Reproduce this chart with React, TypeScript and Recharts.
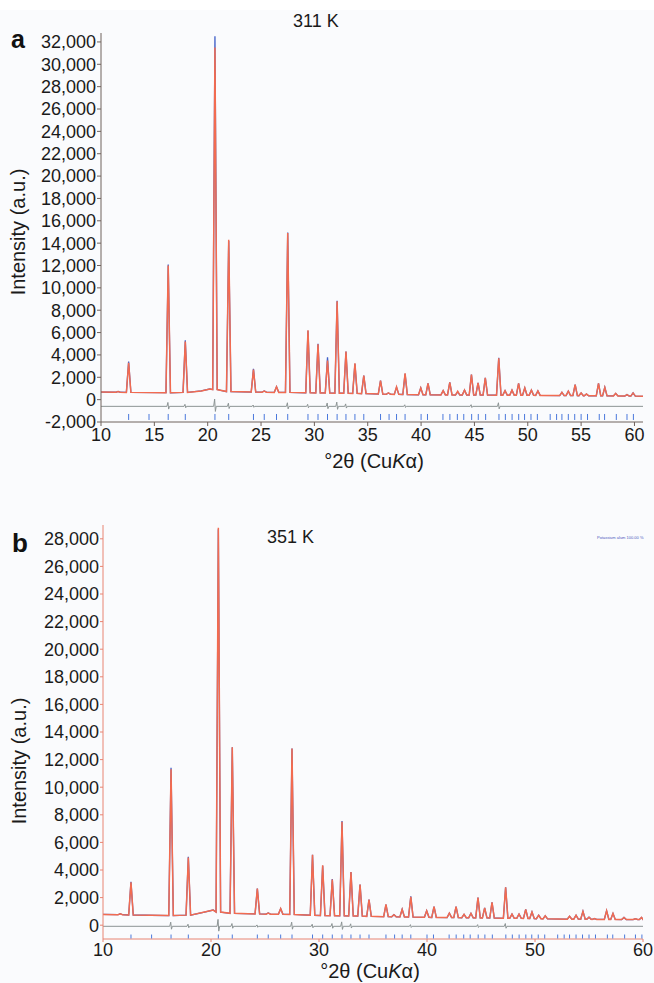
import React from 'react';
import { ComposedChart, Line, Scatter, XAxis, YAxis } from 'recharts';

// ---- Peak table (2θ positions) ----
const peakTheta = [11.6, 12.59, 16.3, 17.9, 20.68, 21.97, 24.29, 25.3, 26.45, 27.5, 29.4, 30.34, 31.23, 32.13, 32.96, 33.8, 34.63, 36.2, 36.94, 37.7, 38.5, 39.97, 40.65, 42.07, 42.69, 43.43, 44.07, 44.72, 45.34, 46.02, 47.28, 47.87, 48.52, 49.14, 49.72, 50.34, 50.95, 53.2, 53.8, 54.44, 55.0, 55.5, 56.63, 57.22, 58.24, 59.3, 59.87];

// Panel a (311 K)
const calcA = [720, 3300, 12000, 5200, 31500, 14300, 2700, 760, 1150, 14900, 6200, 4950, 3500, 8800, 4300, 3250, 2150, 1700, 600, 1150, 2350, 1050, 1450, 800, 1550, 750, 850, 2250, 1500, 1950, 3700, 800, 850, 1450, 1050, 850, 780, 650, 750, 1350, 600, 500, 1450, 1100, 560, 450, 600];
const obsA = [740, 3400, 12100, 5300, 32500, 14200, 2750, 770, 1150, 14950, 6150, 5000, 3800, 8850, 4300, 3200, 2150, 1700, 600, 1100, 2300, 1050, 1450, 800, 1550, 700, 850, 2250, 1500, 1950, 3750, 800, 850, 1450, 1050, 850, 780, 650, 750, 1350, 600, 500, 1450, 1100, 560, 450, 600];
const baseA = [660, 650, 620, 650, 900, 720, 680, 670, 650, 650, 620, 600, 600, 580, 580, 560, 540, 500, 480, 470, 460, 430, 430, 420, 420, 410, 410, 410, 410, 410, 400, 400, 400, 400, 390, 390, 380, 360, 360, 360, 350, 350, 340, 340, 330, 320, 320];
const bgThetaA = [10, 19.4, 20.2, 60.8];
const bgA = [680, 780, 950, 300];

// Panel b (351 K)
const calcB = [820, 3100, 11300, 4900, 28800, 12900, 2650, 880, 1200, 12800, 5100, 4350, 3300, 7500, 3850, 2950, 1850, 1500, 760, 1150, 2050, 1050, 1350, 870, 1350, 780, 850, 2000, 1250, 1650, 2750, 800, 800, 1150, 950, 720, 680, 650, 720, 1000, 580, 480, 1050, 850, 560, 470, 560];
const obsB = [840, 3150, 11400, 4950, 28700, 12900, 2650, 890, 1200, 12800, 5100, 4300, 3350, 7550, 3850, 2950, 1850, 1500, 760, 1150, 2100, 1050, 1350, 870, 1350, 780, 850, 2000, 1250, 1650, 2750, 800, 800, 1150, 950, 720, 680, 650, 720, 1000, 580, 480, 1050, 850, 560, 470, 560];
const baseB = [760, 740, 700, 730, 950, 860, 820, 800, 790, 780, 720, 700, 690, 680, 670, 660, 640, 620, 610, 600, 590, 570, 560, 550, 550, 540, 540, 530, 530, 520, 500, 500, 500, 490, 480, 470, 460, 440, 440, 430, 430, 420, 420, 420, 410, 410, 410];
const bgThetaB = [10, 19.4, 20.2, 60];
const bgB = [780, 950, 1100, 410];

// Difference curves
const diffOffsetA = -600;
const diffOffsetB = -80;
const diffTheta = [16.3, 17.9, 20.68, 21.97, 24.29, 27.5, 29.4, 31.23, 32.13, 32.96, 38.5, 44.72, 47.28];
const diffAmpA = [350, 180, 650, 280, 120, 320, 180, 300, 380, 220, 140, 150, 320];
const diffAmpB = [300, 150, 500, 200, 100, 300, 150, 200, 320, 180, 120, 120, 200];

// Reflection markers
const reflTheta = [12.59, 14.5, 16.3, 17.9, 20.68, 21.97, 24.29, 25.3, 26.45, 27.5, 29.4, 30.34, 31.23, 32.13, 32.96, 33.8, 34.63, 36.2, 37.0, 37.7, 38.5, 40.0, 40.6, 42.05, 42.7, 43.4, 44.0, 44.74, 45.36, 46.05, 47.3, 47.9, 48.53, 49.15, 49.7, 50.3, 50.9, 52.1, 52.7, 53.2, 53.8, 54.4, 55.0, 55.6, 56.7, 57.2, 58.3, 59.3, 59.9];
const reflYA = -1550;
const reflYB = -820;

// Axes ticks
const xTicksA = [10, 15, 20, 25, 30, 35, 40, 45, 50, 55, 60];
const xTicksB = [10, 20, 30, 40, 50, 60];
const yTicksA = [-2000, 0, 2000, 4000, 6000, 8000, 10000, 12000, 14000, 16000, 18000, 20000, 22000, 24000, 26000, 28000, 30000, 32000];
const yTicksB = [0, 2000, 4000, 6000, 8000, 10000, 12000, 14000, 16000, 18000, 20000, 22000, 24000, 26000, 28000];
const minorTicksA = [-1500, -1000, -500, 500, 1000, 1500, 2500, 3000, 3500, 4500, 5000, 5500, 6500, 7000, 7500, 8500, 9000, 9500, 10500, 11000, 11500, 12500, 13000, 13500, 14500, 15000, 15500, 16500, 17000, 17500, 18500, 19000, 19500, 20500, 21000, 21500, 22500, 23000, 23500, 24500, 25000, 25500, 26500, 27000, 27500, 28500, 29000, 29500, 30500, 31000, 31500, 32500];
const minorTicksB = [-500, 500, 1000, 1500, 2500, 3000, 3500, 4500, 5000, 5500, 6500, 7000, 7500, 8500, 9000, 9500, 10500, 11000, 11500, 12500, 13000, 13500, 14500, 15000, 15500, 16500, 17000, 17500, 18500, 19000, 19500, 20500, 21000, 21500, 22500, 23000, 23500, 24500, 25000, 25500, 26500, 27000, 27500, 28500];

const W = 0.21;

function buildProfile(heights: number[], bases: number[], bgT: number[], bgV: number[]) {
  const pts: { x: number; y: number }[] = [];
  peakTheta.forEach((t, i) => {
    pts.push({ x: t - W, y: bases[i] });
    pts.push({ x: t, y: heights[i] });
    pts.push({ x: t + W, y: bases[i] });
  });
  bgT.forEach((t, i) => pts.push({ x: t, y: bgV[i] }));
  return pts.sort((a, b) => a.x - b.x);
}

function buildDiff(amps: number[], off: number, x0: number, x1: number) {
  const pts: { x: number; y: number }[] = [{ x: x0, y: off }];
  diffTheta.forEach((t, i) => {
    pts.push({ x: t - 0.12, y: off });
    pts.push({ x: t - 0.03, y: off + amps[i] });
    pts.push({ x: t + 0.04, y: off - amps[i] * 0.7 });
    pts.push({ x: t + 0.12, y: off });
  });
  pts.push({ x: x1, y: off });
  return pts;
}

const calcDataA = buildProfile(calcA, baseA, bgThetaA, bgA);
const obsDataA = buildProfile(obsA, baseA, bgThetaA, bgA);
const calcDataB = buildProfile(calcB, baseB, bgThetaB, bgB);
const obsDataB = buildProfile(obsB, baseB, bgThetaB, bgB);
const diffDataA = buildDiff(diffAmpA, diffOffsetA, 10, 60.8);
const diffDataB = buildDiff(diffAmpB, diffOffsetB, 10, 60);
const reflDataA = reflTheta.map((x) => ({ x, y: reflYA }));
const reflDataB = reflTheta.map((x) => ({ x, y: reflYB }));

const FONT = '"Liberation Sans", Arial, sans-serif';
const RED = '#f26b50';
const BLUE = '#3f5fc8';
const GREY = '#8c9494';
const TICKBLUE = '#4a78dc';

const fmt = (v: number) => v.toLocaleString('en-US');

const TickMark = (color: string, half: number) => (props: any) => {
  const { cx, cy } = props;
  return <line x1={cx} x2={cx} y1={cy - half} y2={cy + half} stroke={color} strokeWidth={1} />;
};

const NoLabel = () => <g />;

const XTitle = ({ x, y }: { x: number; y: number }) => (
  <text x={x} y={y} textAnchor="middle" fontFamily={FONT} fontSize={20} fill="#1a1a1a">
    °2θ (Cu<tspan fontStyle="italic">K</tspan>α)
  </text>
);

const YTitle = ({ x, y }: { x: number; y: number }) => (
  <text x={x} y={y} textAnchor="middle" fontFamily={FONT} fontSize={20} fill="#1a1a1a" transform={`rotate(-90 ${x} ${y})`}>
    Intensity (a.u.)
  </text>
);

const TICKFONT = { fontSize: 18, fontFamily: FONT, fill: '#1a1a1a' };

export default function App() {
  const axisA = '#6f625c';
  const axisB = '#e88472';
  return (
    <div style={{ position: 'absolute', left: 0, top: 0, width: 654, height: 983, background: '#fafbfd', overflow: 'hidden' }}>
      <div style={{ position: 'absolute', left: 0, top: 0, width: 654, height: 10, background: '#ffffff' }} />
      {/* Panel a */}
      <div style={{ position: 'absolute', left: 0, top: 0 }}>
        <ComposedChart width={654} height={480} margin={{ top: 33, right: 11, left: 0, bottom: 0 }}>
          <XAxis
            type="number"
            dataKey="x"
            domain={[10, 60.8]}
            ticks={xTicksA}
            interval={0}
            allowDataOverflow
            height={58}
            stroke={axisA}
            tickSize={4}
            tickMargin={2}
            tick={TICKFONT}
          />
          <YAxis
            yAxisId="main"
            type="number"
            domain={[-2000, 32800]}
            ticks={yTicksA}
            interval={0}
            allowDataOverflow
            width={101}
            stroke={axisA}
            tickSize={4}
            tickMargin={1}
            tickFormatter={fmt}
            tick={TICKFONT}
          />
          <YAxis
            yAxisId="minor"
            type="number"
            domain={[-2000, 32800]}
            ticks={minorTicksA}
            interval={0}
            allowDataOverflow
            width={0}
            axisLine={false}
            stroke={axisA}
            tickSize={2}
            tick={NoLabel}
          />
          <Line yAxisId="main" data={obsDataA} dataKey="y" stroke={BLUE} strokeWidth={1.3} dot={false} isAnimationActive={false} />
          <Line yAxisId="main" data={calcDataA} dataKey="y" stroke={RED} strokeWidth={1.5} dot={false} isAnimationActive={false} />
          <Line yAxisId="main" data={diffDataA} dataKey="y" stroke={GREY} strokeWidth={1} dot={false} isAnimationActive={false} />
          <Scatter yAxisId="main" data={reflDataA} dataKey="y" shape={TickMark(TICKBLUE, 3)} isAnimationActive={false} />
        </ComposedChart>
        <svg style={{ position: 'absolute', left: 0, top: 0 }} width={654} height={480}>
          <text x={11} y={48} fontFamily={FONT} fontSize={25} fontWeight="bold" fill="#111">a</text>
          <text x={293} y={27} fontFamily={FONT} fontSize={18} fill="#1a1a1a">311 K</text>
          <XTitle x={374} y={468} />
          <YTitle x={25} y={232} />
        </svg>
      </div>
      {/* Panel b */}
      <div style={{ position: 'absolute', left: 0, top: 480 }}>
        <ComposedChart width={654} height={503} margin={{ top: 45, right: 11, left: 0, bottom: 0 }}>
          <XAxis
            type="number"
            dataKey="x"
            domain={[10, 60]}
            ticks={xTicksB}
            interval={0}
            allowDataOverflow
            height={44}
            stroke={axisB}
            tickSize={3}
            tickMargin={1}
            tick={TICKFONT}
          />
          <YAxis
            yAxisId="main"
            type="number"
            domain={[-1000, 29000]}
            ticks={yTicksB}
            interval={0}
            allowDataOverflow
            width={103}
            stroke={axisB}
            tickSize={3}
            tickMargin={1}
            tickFormatter={fmt}
            tick={TICKFONT}
          />
          <YAxis
            yAxisId="minor"
            type="number"
            domain={[-1000, 29000]}
            ticks={minorTicksB}
            interval={0}
            allowDataOverflow
            width={0}
            axisLine={false}
            stroke={axisB}
            tickSize={2}
            tick={NoLabel}
          />
          <Line yAxisId="main" data={obsDataB} dataKey="y" stroke={BLUE} strokeWidth={1.3} dot={false} isAnimationActive={false} />
          <Line yAxisId="main" data={calcDataB} dataKey="y" stroke={RED} strokeWidth={1.5} dot={false} isAnimationActive={false} />
          <Line yAxisId="main" data={diffDataB} dataKey="y" stroke={GREY} strokeWidth={1} dot={false} isAnimationActive={false} />
          <Scatter yAxisId="main" data={reflDataB} dataKey="y" shape={TickMark(TICKBLUE, 2)} isAnimationActive={false} />
        </ComposedChart>
        <svg style={{ position: 'absolute', left: 0, top: 0 }} width={654} height={503}>
          <text x={12} y={72} fontFamily={FONT} fontSize={26} fontWeight="bold" fill="#111">b</text>
          <text x={267} y={63} fontFamily={FONT} fontSize={18} fill="#1a1a1a">351 K</text>
          <text x={597} y={59} fontFamily={FONT} fontSize={4} fill="#4a5ac0">Potassium alum   100.00 %</text>
          <XTitle x={370} y={498} />
          <YTitle x={26} y={281} />
        </svg>
      </div>
    </div>
  );
}
